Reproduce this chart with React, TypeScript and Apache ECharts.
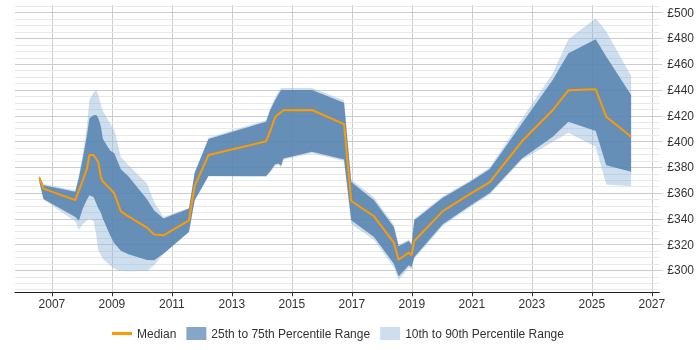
import React, { useEffect, useRef } from "react";
import * as echarts from "echarts";

// Sample dates (decimal years) shared by every series
const years = [
  2006.58, 2006.72, 2007.78, 2007.9, 2008.03, 2008.17, 2008.25, 2008.39, 2008.48, 2008.55,
  2008.63, 2008.7, 2008.94, 2009.08, 2009.3, 2009.55, 2010.17, 2010.41, 2010.72, 2011.57,
  2011.76, 2012.22, 2014.14, 2014.28, 2014.44, 2014.56, 2014.64, 2014.72, 2015.67, 2016.74,
  2016.98, 2017.74, 2018.4, 2018.56, 2018.9, 2018.99, 2019.08, 2020.03, 2021.0, 2021.6,
  2022.67, 2023.7, 2024.22, 2025.13, 2025.48, 2026.31,
];

const median = [
  372, 363.5, 354.5, 362, 370, 379, 389.5, 389.5, 386.5, 383.8,
  372.6, 369, 363.5, 359.7, 345.8, 342, 333.2, 327.8, 327.2, 338.9,
  365.5, 389.5, 400.2, 408.2, 418.8, 421.5, 422.7, 424.3, 424.5, 413.6,
  353.9, 342, 321.6, 308.3, 313.8, 311.7, 322.8, 346, 360.2, 368.5,
  400.2, 424.5, 439.8, 440.6, 419.3, 403.7,
];

const p25 = [
  369, 355.5, 341.5, 338.5, 348, 355, 358.4, 357, 352, 348,
  345, 340, 327.2, 321, 315.2, 312.5, 308, 307.8, 313, 330,
  354.5, 373.2, 373.2, 377, 382.3, 383, 381.2, 386.9, 392.1, 386.1,
  338.9, 325.9, 305.2, 295.3, 303.9, 302.6, 310.3, 335.8, 351.1, 360,
  386.9, 403.7, 415.4, 408.2, 381.7, 376.5,
];

const p75 = [
  373, 366, 361, 372, 387, 405, 418, 420.5, 420.6, 418,
  412, 402, 393, 391, 378.5, 373, 355.3, 346.5, 340.2, 348,
  375.7, 402, 415.4, 424.5, 432, 437, 440, 440, 440, 430.2,
  368.7, 354.5, 333.7, 318.7, 322.8, 319.5, 338.9, 356.3, 369.5, 378.7,
  414, 447.9, 468.6, 479.5, 466, 436.2,
];

const p10 = [
  368, 355, 338, 331.5, 335.8, 339, 340.2, 338.1, 327, 315.6,
  312, 309, 303.9, 301.3, 299.5, 299.3, 299.5, 304, 313, 329.5,
  354, 373, 372.5, 376, 381, 382, 380, 385.8, 391, 385,
  336, 323.5, 302.5, 292.5, 302, 301, 309, 334.5, 350, 359,
  385.6, 399.8, 406.9, 396, 366.7, 365.4,
];

const p90 = [
  374, 367, 362, 374, 390, 412, 432, 438, 440, 436,
  428.4, 424, 414, 409, 388, 381.7, 367.4, 353, 341.5, 348.5,
  376, 403, 416.5, 426, 434, 439, 441.5, 441.5, 441.5, 432,
  370.5, 356.5, 335.5, 320, 324, 321, 340, 357.5, 370.5, 380,
  417.5, 453, 479.5, 495.8, 485.4, 451,
];

const xTickYears = [2007, 2009, 2011, 2013, 2015, 2017, 2019, 2021, 2023, 2025, 2027];
const yTickValues = [300, 320, 340, 360, 380, 400, 420, 440, 460, 480, 500];
const yMinorValues = [
  285, 290, 295, 300, 305, 310, 315, 320, 325, 330, 335, 340, 345, 350, 355,
  360, 365, 370, 375, 380, 385, 390, 395, 400, 405, 410, 415, 420, 425, 430,
  435, 440, 445, 450, 455, 460, 465, 470, 475, 480, 485, 490, 495, 500, 505,
];

const FONT = "'Liberation Sans', Arial, sans-serif";

function bandSeries(name: string, lo: number[], hi: number[], fill: string, legendColor: string) {
  const outline = [
    ...years.map((x, i) => [x, hi[i]]),
    ...years.map((x, i) => [x, lo[i]]).reverse(),
  ];
  return {
    name,
    type: "custom",
    data: years.map((x, i) => [x, lo[i], hi[i]]),
    encode: { x: 0, y: [1, 2] },
    itemStyle: { color: legendColor },
    silent: true,
    renderItem: (params: any, api: any) => {
      if (params.dataIndex !== 0) return null;
      return {
        type: "polygon",
        shape: { points: outline.map((p) => api.coord(p)) },
        style: { fill },
      };
    },
  };
}

export default function App() {
  const ref = useRef<HTMLDivElement>(null);

  useEffect(() => {
    if (!ref.current) return;
    const chart = echarts.init(ref.current, undefined, { renderer: "svg" });
    chart.setOption({
      animation: false,
      textStyle: { fontFamily: FONT },
      grid: { left: 15, right: 40.7, top: 5, bottom: 57.7, outerBoundsMode: "none" },
      legend: {
        left: 112,
        top: 327,
        padding: 0,
        itemWidth: 20,
        itemHeight: 13,
        itemGap: 10,
        textStyle: { fontSize: 12, color: "#333", fontFamily: FONT },
        data: [
          {
            name: "Median",
            icon: "path://M0,0H20V3H0Z",
            itemStyle: { color: "#ff9900" },
          },
          { name: "25th to 75th Percentile Range", icon: "rect" },
          { name: "10th to 90th Percentile Range", icon: "rect" },
        ],
      },
      xAxis: {
        type: "value",
        min: 2005.77,
        max: 2027.25,
        axisLine: { show: true, lineStyle: { color: "#222", width: 1 } },
        axisTick: { show: true, length: 4, customValues: xTickYears, lineStyle: { color: "#333" } },
        axisLabel: {
          customValues: xTickYears,
          margin: 6,
          fontSize: 12,
          color: "#333",
          fontFamily: FONT,
          formatter: (v: number) => String(v),
        },
        splitLine: { show: true, lineStyle: { color: "#cccccc", width: 1 } },
      },
      yAxis: [
        {
          type: "value",
          position: "right",
          min: 283,
          max: 506,
          z: 2,
          axisLine: { show: false },
          axisTick: { show: true, length: 3, customValues: yTickValues, lineStyle: { color: "#cccccc" } },
          axisLabel: {
            customValues: yTickValues,
            margin: 8,
            fontSize: 12,
            color: "#333",
            fontFamily: FONT,
            formatter: (v: number) => "£" + v,
          },
          splitLine: { show: true, lineStyle: { color: "#cccccc", width: 1 } },
        },
        {
          type: "value",
          position: "right",
          min: 283,
          max: 506,
          z: 1,
          axisLine: { show: false },
          axisTick: { show: false, customValues: yMinorValues },
          axisLabel: { show: false, customValues: yMinorValues },
          splitLine: { show: true, lineStyle: { color: "#e8e8e8", width: 1 } },
        },
      ],
      series: [
        bandSeries("10th to 90th Percentile Range", p10, p90, "rgba(145,181,217,0.45)", "#cfdeee"),
        bandSeries("25th to 75th Percentile Range", p25, p75, "rgba(80,126,173,0.82)", "#86a6c8"),
        {
          name: "Median",
          type: "line",
          data: years.map((x, i) => [x, median[i]]),
          showSymbol: false,
          symbol: "none",
          lineStyle: { color: "#ff9900", width: 2 },
          itemStyle: { color: "#ff9900" },
          z: 5,
        },
      ],
    });
    return () => chart.dispose();
  }, []);

  return (
    <div
      ref={ref}
      style={{ position: "fixed", left: 0, top: 0, width: 700, height: 350 }}
    />
  );
}
